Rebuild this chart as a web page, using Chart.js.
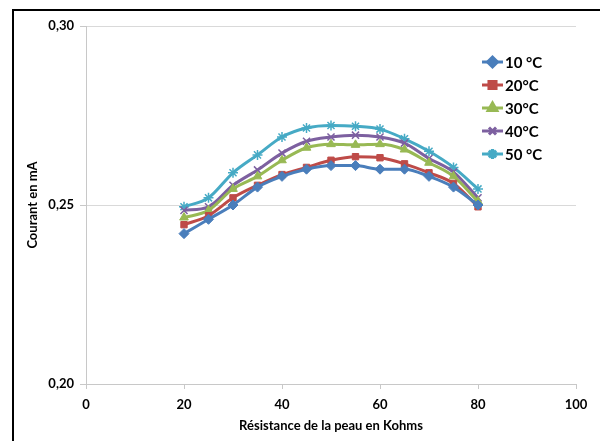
<!DOCTYPE html>
<html>
<head>
<meta charset="utf-8">
<script src="https://cdn.jsdelivr.net/npm/chart.js@4"></script>
<style>
  body { margin: 0; background: #fff; }
  #wrap { position: relative; width: 600px; height: 441px; }
  #cadre { position: absolute; left: 12px; top: 9px; right: 0; bottom: 0; border-top: 2px solid #000; border-left: 2px solid #000; pointer-events: none; }
</style>
</head>
<body>
<div id="wrap">
  <canvas id="graphique" width="600" height="441"></canvas>
  <div id="cadre"></div>
</div>
<script>
const resistances = [20, 25, 30, 35, 40, 45, 50, 55, 60, 65, 70, 75, 80];
const temperatures = ["10 °C", "20°C", "30°C", "40°C", "50 °C"];
const courant10 = [0.242, 0.246, 0.250, 0.255, 0.258, 0.260, 0.261, 0.261, 0.260, 0.260, 0.258, 0.255, 0.250];
const courant20 = [0.2445, 0.247, 0.252, 0.2555, 0.2585, 0.2605, 0.2625, 0.2635, 0.2632, 0.2615, 0.259, 0.256, 0.2495];
const courant30 = [0.2465, 0.2485, 0.2545, 0.258, 0.2625, 0.266, 0.267, 0.2668, 0.267, 0.2655, 0.2618, 0.258, 0.251];
const courant40 = [0.2485, 0.2495, 0.2555, 0.2598, 0.2645, 0.2678, 0.269, 0.2695, 0.269, 0.2673, 0.263, 0.2592, 0.252];
const courant50 = [0.2495, 0.252, 0.259, 0.264, 0.269, 0.2715, 0.2722, 0.272, 0.2712, 0.2685, 0.265, 0.2605, 0.2545];
const yTicks = [0.20, 0.25, 0.30];

const couleurs = ["#4A7EBB", "#BE4B48", "#98B954", "#7D60A0", "#46AAC5"];
const marqueurs = ["rectRot", "rect", "triangle", "crossRot", "star"];
const series = [courant10, courant20, courant30, courant40, courant50];

const police = "Lato, 'Liberation Sans', sans-serif";

function pts(vals) {
    return vals.map((v, i) => ({ x: resistances[i], y: v }));
}

const datasets = series.map((vals, i) => ({
    label: temperatures[i],
    data: pts(vals),
    borderColor: couleurs[i],
    backgroundColor: couleurs[i],
    pointBorderColor: couleurs[i],
    pointBackgroundColor: couleurs[i],
    pointStyle: marqueurs[i],
    pointRadius: i === 1 ? 4.5 : 5,
    pointBorderWidth: i >= 3 ? 1.5 : 1,
    borderWidth: 3,
    tension: 0.4,
    cubicInterpolationMode: "monotone"
}));

// legende dessinee dans la zone du graphique, comme dans Excel
const legendeInterne = {
    id: "legendeInterne",
    afterDraw(chart) {
        const ctx = chart.ctx;
        ctx.save();
        ctx.font = "bold 15px " + police;
        ctx.textBaseline = "middle";
        chart.data.datasets.forEach((ds, i) => {
            const y = 62 + i * 23;
            ctx.strokeStyle = ds.borderColor;
            ctx.lineWidth = 3;
            ctx.beginPath();
            ctx.moveTo(482, y);
            ctx.lineTo(503, y);
            ctx.stroke();
            ctx.fillStyle = ds.borderColor;
            Chart.helpers.drawPoint(ctx, {
                pointStyle: ds.pointStyle,
                radius: 5,
                rotation: 0,
                borderWidth: ds.pointBorderWidth
            }, 492.5, y);
            ctx.fillStyle = "#000";
            ctx.fillText(ds.label, 505, y + 1);
        });
        ctx.restore();
    }
};

new Chart(document.getElementById("graphique"), {
    type: "line",
    data: { datasets: datasets },
    options: {
        responsive: false,
        animation: false,
        layout: { padding: { top: 26, right: 24, left: 0, bottom: 0 } },
        plugins: {
            legend: { display: false },
            tooltip: { enabled: false }
        },
        scales: {
            x: {
                type: "linear",
                min: 0,
                max: 100,
                afterFit: s => { s.height = 57; },
                ticks: { stepSize: 20, color: "#000", font: { family: police, size: 13, weight: "bold" }, padding: 8 },
                grid: { drawOnChartArea: false, color: "#C8C8C8", tickLength: 5 },
                border: { color: "#C8C8C8" },
                title: { display: true, text: "Résistance de la peau en Kohms", color: "#000", font: { family: police, size: 13, weight: "bold" }, padding: { top: 2, bottom: 7 } }
            },
            y: {
                min: 0.20,
                max: 0.30,
                afterFit: s => { s.width = 86; },
                afterBuildTicks: s => { s.ticks = yTicks.map(v => ({ value: v })); },
                ticks: {
                    color: "#000",
                    font: { family: police, size: 13, weight: "bold" },
                    padding: 6,
                    callback: v => v.toFixed(2).replace(".", ",")
                },
                grid: { color: "#D9D9D9", tickLength: 6, tickColor: "#C8C8C8" },
                border: { color: "#C8C8C8" },
                title: { display: true, text: "Courant en mA", color: "#000", font: { family: police, size: 13, weight: "bold" }, padding: { top: 25, bottom: 2 } }
            }
        }
    },
    plugins: [legendeInterne]
});
</script>
</body>
</html>
